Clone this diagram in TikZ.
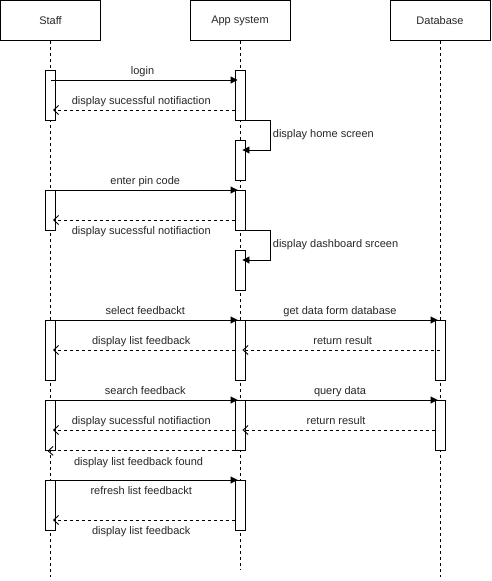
\documentclass[tikz,border=0pt]{standalone}
\usepackage{fontspec}
\setmainfont{Liberation Sans}
\usetikzlibrary{arrows.meta}
\begin{document}
\begin{tikzpicture}[x=1pt,y=-1pt,line width=0.9pt,
  txt/.style={font=\fontsize{11}{13}\selectfont, text=black!85},
  head/.style={draw, txt, minimum width=100pt, minimum height=40pt, inner sep=0pt},
  bar/.style={draw, fill=white, minimum width=10pt, inner sep=0pt, anchor=north},
  life/.style={dash pattern=on 3pt off 3pt},
  call/.style={-{Triangle[length=7pt,width=7pt]}, shorten >=-3pt},
  reply/.style={dash pattern=on 3pt off 3pt, -{Straight Barb[length=5pt,width=9pt,line width=0.9pt]}, shorten >=-3pt},
  lbl/.style={txt, text height=8pt, text depth=2.5pt, inner xsep=2pt},
  up/.style={lbl, above, inner ysep=2.5pt},
  down/.style={lbl, below, inner ysep=6pt},
  back/.style={xshift=-4pt}
]
\useasboundingbox (0,0) rectangle (491,581);

% participants
\node[head] (staff) at (50.5,20.5) {Staff};
\node[head] (app)   at (240,20.5) {App system};
\node[head] (db)    at (440,20.5) {Database};

% lifelines
\coordinate (staffEnd) at (50.5,577);
\coordinate (appEnd)   at (240,570);
\coordinate (dbEnd)    at (440,577);
\draw[life] (staff.south) -- (staffEnd);
\draw[life] (app.south) -- (appEnd);
\draw[life] (db.south) -- (dbEnd);

% activation bars: Staff
\node[bar, minimum height=50pt] (s1) at (50.5,70) {};
\node[bar, minimum height=40pt] (s2) at (50.5,190) {};
\node[bar, minimum height=60pt] (s3) at (50.5,320) {};
\node[bar, minimum height=50pt] (s4) at (50.5,400) {};
\node[bar, minimum height=50pt] (s5) at (50.5,480) {};

% activation bars: App system
\node[bar, minimum height=50pt] (a1) at (240,70) {};
\node[bar, minimum height=40pt] (a2) at (240,140) {};
\node[bar, minimum height=40pt] (a3) at (240,190) {};
\node[bar, minimum height=40pt] (a4) at (240,250) {};
\node[bar, minimum height=60pt] (a5) at (240,320) {};
\node[bar, minimum height=50pt] (a6) at (240,400) {};
\node[bar, minimum height=50pt] (a7) at (240,480) {};

% activation bars: Database
\node[bar, minimum height=60pt] (d1) at (440,320) {};
\node[bar, minimum height=50pt] (d2) at (440,400) {};

% login
\draw[call] ([yshift=-10pt]s1.north) -- node[up] {login} ([yshift=-10pt]a1.north west);
\draw[reply] ([yshift=-40pt]a1.north west) -- node[up, back] {display sucessful notifiaction} ([yshift=-40pt]s1.north east);
\draw[call] (a1.south east) -- ++(25,0) coordinate (h1) |- ([yshift=-10pt]a2.north east);
\node[lbl, anchor=west] (h1l) at ([yshift=-14pt]h1) {display home screen};

% pin code
\draw[call] (s2.north east) -- node[up] {enter pin code} (a3.north west);
\draw[reply] ([yshift=-30pt]a3.north west) -- node[down, back] {display sucessful notifiaction} ([yshift=-30pt]s2.north east);
\draw[call] (a3.south east) -- ++(25,0) coordinate (h2) |- ([yshift=-10pt]a4.north east);
\node[lbl, anchor=west] (h2l) at ([yshift=-14pt]h2) {display dashboard srceen};

% select feedback
\draw[call] (s3.north east) -- node[up] {select feedbackt} (a5.north west);
\draw[call] (a5.north east) -- node[up] {get data form database} (d1.north west);
\draw[reply] ([yshift=-30pt]d1.north) -- node[up] {return result} ([yshift=-30pt]a5.north east);
\draw[reply] ([yshift=-30pt]a5.north west) -- node[up, back] {display list feedback} ([yshift=-30pt]s3.north east);

% search feedback
\draw[call] (s4.north east) -- node[up] {search feedback} (a6.north west);
\draw[call] (a6.north east) -- node[up] {query data} (d2.north west);
\draw[reply] ([yshift=-30pt]d2.north west) -- node[up, back] {return result} ([yshift=-30pt]a6.north east);
\draw[reply] ([yshift=-30pt]a6.north west) -- node[up, back] {display sucessful notifiaction} ([yshift=-30pt]s4.north east);
\draw[reply] (a6.south west) -- node[down, back] {display list feedback found} (s4.south);

% refresh
\draw[call] (s5.north east) -- node[down, back] {refresh list feedbackt} (a7.north west);
\draw[reply] ([yshift=-40pt]a7.north west) -- node[down, back] {display list feedback} ([yshift=-40pt]s5.north east);
\end{tikzpicture}
\end{document}
